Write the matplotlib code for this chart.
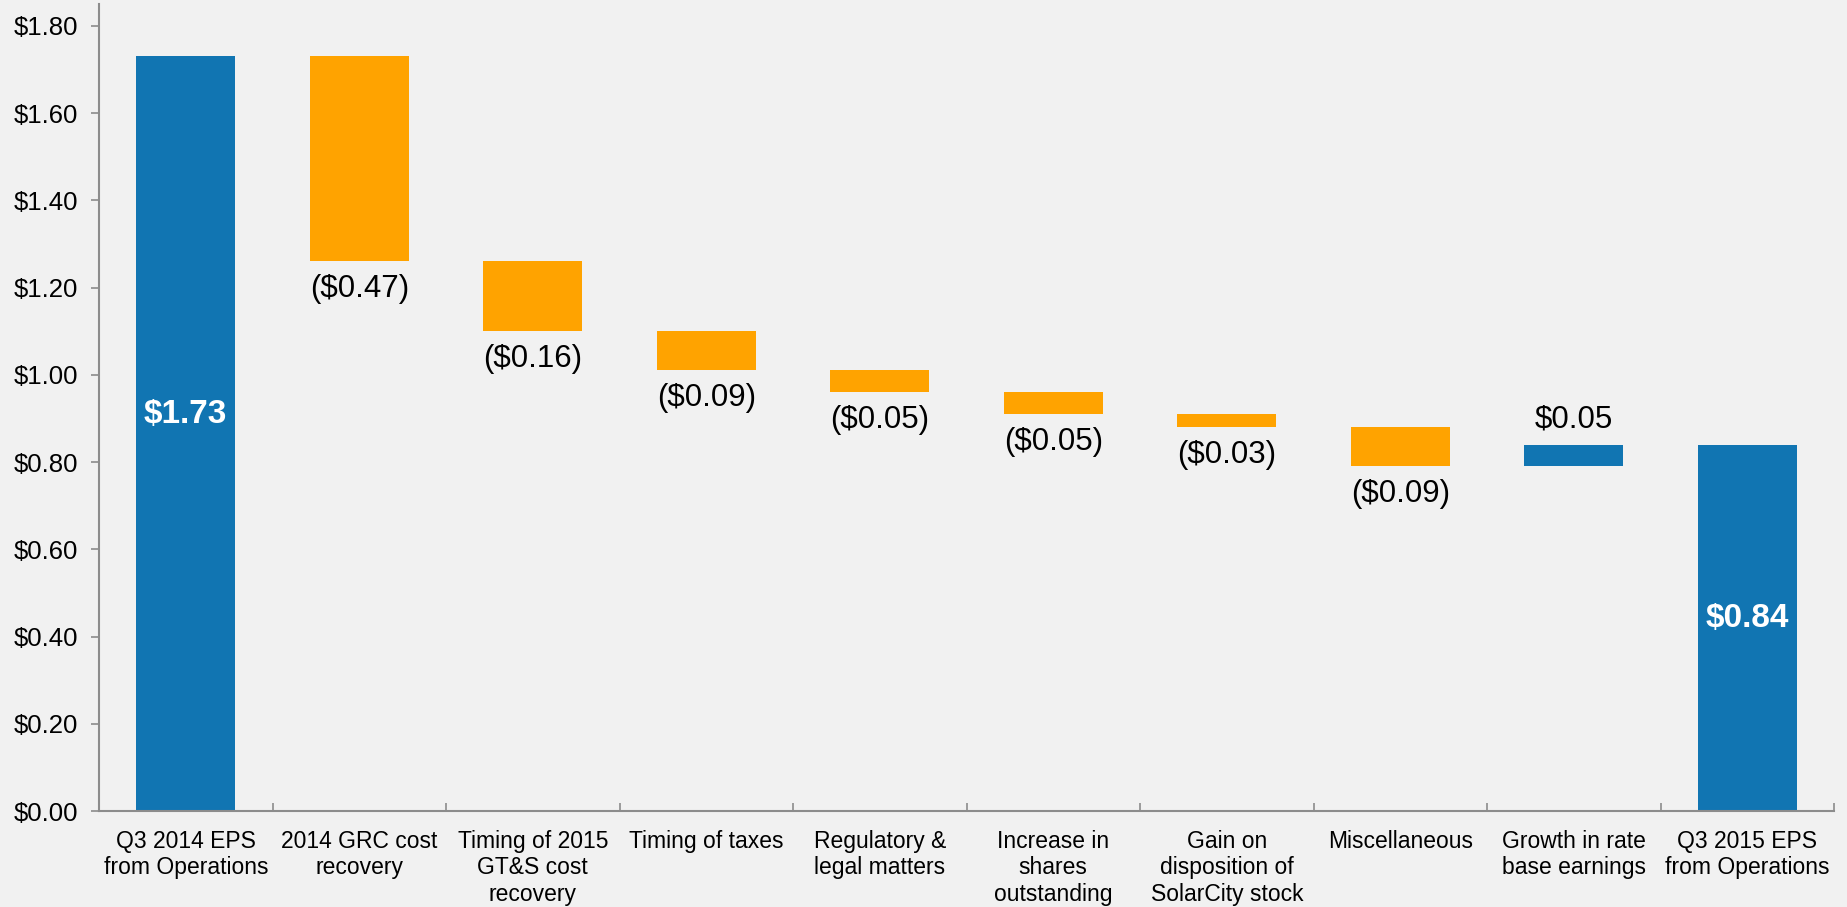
import numpy as np
import matplotlib
matplotlib.use("Agg")
import matplotlib.pyplot as plt

# EPS bridge, Q3 2014 -> Q3 2015
categories = [
    "Q3 2014 EPS\nfrom Operations",
    "2014 GRC cost\nrecovery",
    "Timing of 2015\nGT&S cost\nrecovery",
    "Timing of taxes",
    "Regulatory &\nlegal matters",
    "Increase in\nshares\noutstanding",
    "Gain on\ndisposition of\nSolarCity stock",
    "Miscellaneous",
    "Growth in rate\nbase earnings",
    "Q3 2015 EPS\nfrom Operations",
]
start_eps = 1.73
end_eps = 0.84
changes = [-0.47, -0.16, -0.09, -0.05, -0.05, -0.03, -0.09, 0.05]
yticks = [0.0, 0.2, 0.4, 0.6, 0.8, 1.0, 1.2, 1.4, 1.6, 1.8]

BLUE = "#1175B2"
ORANGE = "#FFA300"
BG = "#F1F1F1"
AXIS = "#8C8C8C"

plt.rcParams["font.family"] = ["Liberation Sans", "DejaVu Sans"]

fig = plt.figure(figsize=(18.47, 9.07), dpi=100, facecolor=BG)
ax = fig.add_axes([0.0536, 0.1058, 0.9394, 0.8898], facecolor=BG)

width = 0.57
x = np.arange(len(categories))

# totals
ax.bar(x[0], start_eps, width, color=BLUE)
ax.bar(x[-1], end_eps, width, color=BLUE)

# floating steps
running = start_eps
for i, c in enumerate(changes, start=1):
    new = running + c
    bottom = min(running, new)
    ax.bar(x[i], abs(c), width, bottom=bottom, color=ORANGE if c < 0 else BLUE)
    if c < 0:
        ax.annotate("(${:.2f})".format(abs(c)), (x[i], bottom), xytext=(0, -20),
                    textcoords="offset points", ha="center", va="center", fontsize=22.5)
    else:
        ax.annotate("${:.2f}".format(c), (x[i], new), xytext=(0, 18),
                    textcoords="offset points", ha="center", va="center", fontsize=22.5)
    running = new

for xi, v in [(x[0], start_eps), (x[-1], end_eps)]:
    ax.text(xi, v * 0.525, "${:.2f}".format(v), ha="center", va="center",
            color="white", fontsize=24, fontweight="bold")

ax.set_xlim(-0.5, len(categories) - 0.5)
ax.set_ylim(0, 1.85)
ax.set_yticks(yticks)
ax.set_yticklabels(["${:.2f}".format(t) for t in yticks])
ax.set_xticks(x)
ax.set_xticklabels(categories, fontsize=16.5, linespacing=1.2)
ax.set_xticks(np.arange(0.5, len(categories)), minor=True)

for s in ["top", "right"]:
    ax.spines[s].set_visible(False)
for s in ["left", "bottom"]:
    ax.spines[s].set_color(AXIS)
    ax.spines[s].set_linewidth(1.5)

ax.tick_params(axis="y", labelsize=18.5, length=6, width=1.2, color=AXIS, pad=9)
ax.tick_params(axis="x", which="major", length=0, pad=13.5)
ax.tick_params(axis="x", which="minor", direction="in", length=6, width=1.2, color=AXIS)

fig.savefig("out.png", dpi=100, facecolor=BG)
